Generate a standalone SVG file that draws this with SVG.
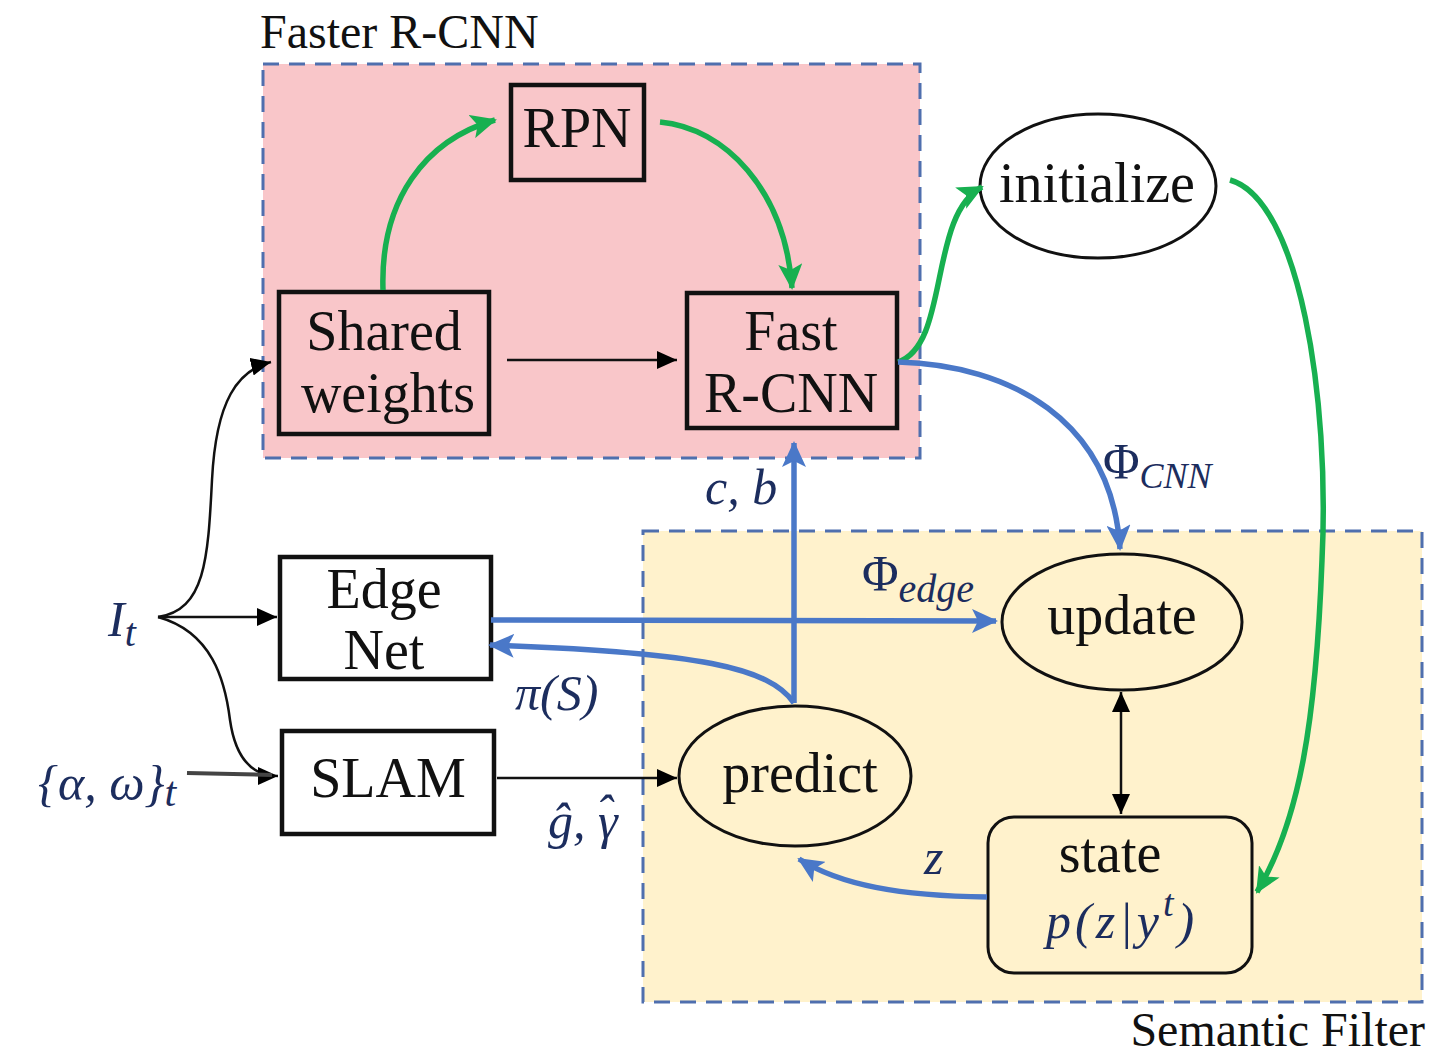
<svg xmlns="http://www.w3.org/2000/svg" width="1441" height="1054" viewBox="0 0 1441 1054">
<defs>
<marker id="ag" markerUnits="userSpaceOnUse" markerWidth="28" markerHeight="24" refX="24" refY="12" orient="auto"><path d="M0,0 L26,12 L0,24 L6,12 Z" fill="#17b050"/></marker>
<marker id="ab" markerUnits="userSpaceOnUse" markerWidth="28" markerHeight="24" refX="24" refY="12" orient="auto"><path d="M0,0 L26,12 L0,24 L6,12 Z" fill="#4a78c8"/></marker>
<marker id="ak" markerUnits="userSpaceOnUse" markerWidth="22" markerHeight="18" refX="20" refY="9" orient="auto-start-reverse"><path d="M0,0 L20,9 L0,18 Z" fill="#000"/></marker>
</defs>
<style>
.grp{stroke:#4f6fae;stroke-width:3;stroke-dasharray:16 10}
.box{fill:none;stroke:#111;stroke-width:4.5}
.ell{stroke:#111;stroke-width:3}
.lbl{font-family:"Liberation Serif",serif;font-size:56px;fill:#111;text-anchor:middle}
.cap{font-family:"Liberation Serif",serif;font-size:48px;fill:#111}
.m{font-family:"Liberation Serif",serif;font-style:italic;font-size:50px;fill:#1c2d5e}
.up{font-style:normal}
.g{fill:none;stroke:#17b050;stroke-width:5.5}
.b{fill:none;stroke:#4a78c8;stroke-width:5.5}
.k{fill:none;stroke:#111;stroke-width:2.5}
</style>
<rect width="1441" height="1054" fill="#fff"/>
<g id="faster-rcnn">
<rect class="grp" x="263" y="64" width="657" height="394" fill="#f9c6c9"/>
<text class="cap" x="260" y="48">Faster R-CNN</text>
</g>
<g id="semantic-filter">
<rect class="grp" x="643" y="531" width="779" height="471" fill="#fff2cc"/>
<text class="cap" x="1425" y="1046" text-anchor="end">Semantic Filter</text>
</g>
<g id="rpn"><rect class="box" x="511" y="85" width="133" height="95"/><text class="lbl" x="577" y="147">RPN</text></g>
<g id="shared-weights"><rect class="box" x="279" y="292" width="210" height="142"/><text class="lbl" x="384" y="350">Shared</text><text class="lbl" x="388" y="412">weights</text></g>
<g id="fast-rcnn"><rect class="box" x="687" y="293" width="210" height="135"/><text class="lbl" x="791" y="350">Fast</text><text class="lbl" x="791" y="412">R-CNN</text></g>
<g id="initialize"><ellipse class="ell" cx="1098" cy="186" rx="118" ry="72" fill="#fff"/><text class="lbl" x="1097" y="202">initialize</text></g>
<g id="edge-net"><rect class="box" x="280" y="557" width="211" height="122" fill="#fff"/><text class="lbl" x="384" y="608">Edge</text><text class="lbl" x="384" y="669">Net</text></g>
<g id="slam"><rect class="box" x="282" y="731" width="212" height="103" fill="#fff"/><text class="lbl" x="388" y="797">SLAM</text></g>
<g id="update"><ellipse class="ell" cx="1122" cy="622" rx="120" ry="68" fill="#fff2cc"/><text class="lbl" x="1122" y="634">update</text></g>
<g id="predict"><ellipse class="ell" cx="795" cy="776" rx="116" ry="70" fill="#fff2cc"/><text class="lbl" x="800" y="792">predict</text></g>
<g id="state"><rect x="988" y="817" width="264" height="156" rx="26" fill="#fff2cc" stroke="#111" stroke-width="3"/><text class="lbl" x="1110" y="872">state</text><text class="m" x="1046" y="938" font-size="58" letter-spacing="4">p(z|y<tspan font-size="38" dy="-22">t</tspan><tspan dy="22">)</tspan></text></g>
<g id="inputs">
<text class="m" x="108" y="636" font-size="54">I<tspan font-size="40" dy="10">t</tspan></text>
<text class="m" x="38" y="800" font-size="54">{α, ω}<tspan font-size="42" dy="6">t</tspan></text>
</g>
<g id="connectors">
<path class="g" d="M383,290 C380,200 425,140 495,120" marker-end="url(#ag)"/>
<path class="g" d="M660,122 C725,128 785,190 792,288" marker-end="url(#ag)"/>
<path class="k" d="M507,360 L677,360" marker-end="url(#ak)"/>
<path class="g" d="M898,362 C950,345 928,215 982,187" marker-end="url(#ag)"/>
<path class="b" d="M898,362 C1010,365 1112,420 1120,549" marker-end="url(#ab)"/>
<path class="g" d="M1230,180 C1300,200 1330,400 1322,560 C1316,720 1300,820 1257,892" marker-end="url(#ag)"/>
<path class="k" d="M158,617 C205,610 208,560 212,480 C216,400 238,370 271,362" marker-end="url(#ak)"/>
<path class="k" d="M158,617 L277,617" marker-end="url(#ak)"/>
<path class="k" d="M158,617 C212,632 225,680 230,720 C236,762 255,776 278,776" marker-end="url(#ak)"/>
<path d="M187,773 L272,775" stroke="#444" stroke-width="4" fill="none"/>
<path class="k" d="M497,778 L677,778" marker-end="url(#ak)"/>
<path class="b" d="M491,620 L996,621" marker-end="url(#ab)"/>
<path class="b" d="M794,703 L794,443" marker-end="url(#ab)"/>
<path class="b" d="M794,703 C770,668 700,652 490,645" marker-end="url(#ab)"/>
<path class="k" d="M1121,692 L1121,814" marker-start="url(#ak)" marker-end="url(#ak)"/>
<path class="b" d="M987,897 C900,896 840,885 799,859" marker-end="url(#ab)"/>
</g>
<g id="edge-labels">
<text class="m" x="705" y="504">c, b</text>
<text class="m" x="1103" y="478"><tspan class="up">Φ</tspan><tspan font-size="36" dy="10">CNN</tspan></text>
<text class="m" x="862" y="590"><tspan class="up">Φ</tspan><tspan font-size="40" dy="12">edge</tspan></text>
<text class="m" x="515" y="710" font-size="56">π(S)</text>
<text class="m" x="548" y="838">ĝ, γ<tspan dx="-22" dy="-8">ˆ</tspan></text>
<text class="m" x="924" y="874">z</text>
</g>
</svg>
